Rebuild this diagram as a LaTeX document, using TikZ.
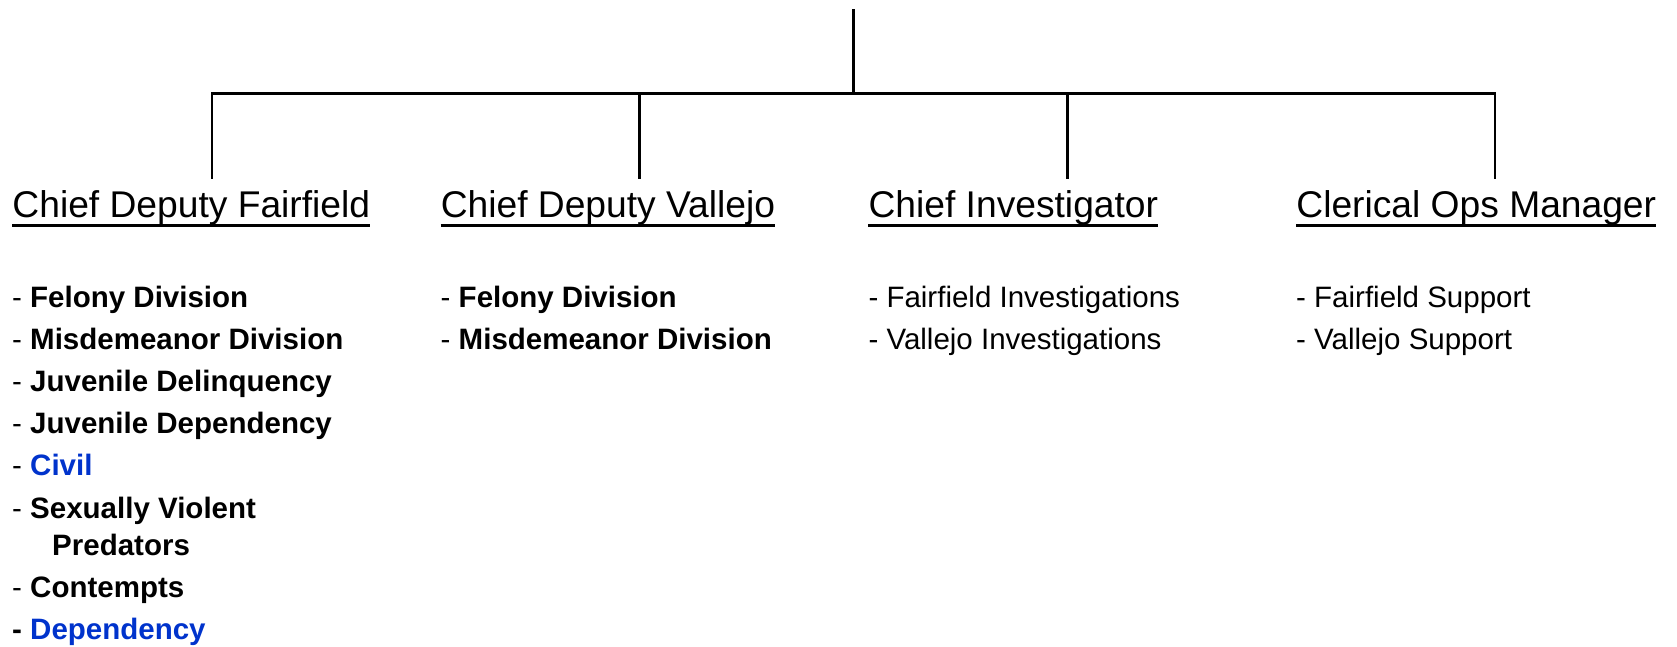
\documentclass[tikz,border=0pt]{standalone}
\usepackage{fontspec}
\setmainfont{Liberation Sans}
\definecolor{linkblue}{HTML}{0033CC}
\begin{document}
\begin{tikzpicture}[x=1pt,y=-1pt,
  conn/.style={line width=2.3pt},
  uline/.style={line width=2.2pt},
  head/.style={anchor=base west,inner sep=0pt,font=\fontsize{37.2}{44}\selectfont},
  item/.style={anchor=base west,inner sep=0pt,font=\fontsize{29.5}{35}\selectfont}]
\useasboundingbox (0,0) rectangle (1677,646);
% connectors
\coordinate (top) at (853.5,9);
\coordinate (bar) at (853.5,93.5);
\coordinate (b1) at (211.7,93.5);
\coordinate (b2) at (639.6,93.5);
\coordinate (b3) at (1067.4,93.5);
\coordinate (b4) at (1495.2,93.5);
\coordinate (d1) at (211.7,178.5);
\coordinate (d2) at (639.6,178.5);
\coordinate (d3) at (1067.4,178.5);
\coordinate (d4) at (1495.2,178.5);
\draw[conn] (top) -- (bar);
\draw[conn] (d1) -- (b1) -- (b4) -- (d4);
\draw[conn] (b2) -- (d2);
\draw[conn] (b3) -- (d3);
% headings
\node[head] (h1) at (12.3,217.5) {Chief Deputy Fairfield};
\node[head] (h2) at (440.6,217.5) {Chief Deputy Vallejo};
\node[head] (h3) at (868.4,217.5) {Chief Investigator};
\node[head] (h4) at (1296.2,217.5) {Clerical Ops Manager};
\foreach \h in {h1,h2,h3,h4}{
  \draw[uline] ([yshift=-8pt]\h.base west) -- ([yshift=-8pt]\h.base east);
}
% column 1
\node[item] (a1) at (12,307) {- \textbf{Felony Division}};
\node[item] (a2) at (12,349.2) {- \textbf{Misdemeanor Division}};
\node[item] (a3) at (12,391.4) {- \textbf{Juvenile Delinquency}};
\node[item] (a4) at (12,433.6) {- \textbf{Juvenile Dependency}};
\node[item] (a5) at (12,475.8) {- \textbf{\color{linkblue}Civil}};
\node[item] (a6) at (12,518) {- \textbf{Sexually Violent}};
\node[item] (a6b) at (52,555) {\textbf{Predators}};
\node[item] (a7) at (12,597) {- \textbf{Contempts}};
\node[item] (a8) at (12,639) {\textbf{- \color{linkblue}Dependency}};
% column 2
\node[item] (c1) at (440.5,307) {- \textbf{Felony Division}};
\node[item] (c2) at (440.5,349.2) {- \textbf{Misdemeanor Division}};
% column 3
\node[item] (e1) at (868.3,307) {- Fairfield Investigations};
\node[item] (e2) at (868.3,349.2) {- Vallejo Investigations};
% column 4
\node[item] (g1) at (1296,307) {- Fairfield Support};
\node[item] (g2) at (1296,349.2) {- Vallejo Support};
\end{tikzpicture}
\end{document}
